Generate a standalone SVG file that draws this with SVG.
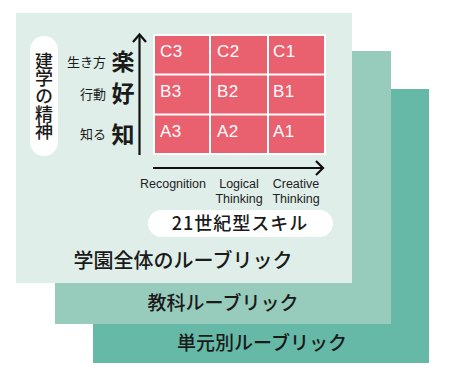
<svg xmlns="http://www.w3.org/2000/svg" width="449" height="384" viewBox="0 0 449 384">
<style>
.jp{font-family:"Noto Sans CJK JP","Noto Sans",sans-serif;fill:#1a1a1a}
.cell{fill:#e9606f}
.cl{font-family:"Liberation Sans",Arial,sans-serif;font-size:17px;fill:#ffffff;letter-spacing:0.5px}
.ax{font-family:"Liberation Sans",Arial,sans-serif;font-size:12.5px;fill:#222;text-anchor:middle}
.arr{stroke:#111;stroke-width:2.2;fill:none}
</style>
<rect width="449" height="384" fill="#ffffff"/>
<g id="unit-rubric">
<rect x="93" y="89" width="336" height="274" fill="#66b9a7"/>
<text class="jp" x="262" y="350" font-size="19" font-weight="500" text-anchor="middle">単元別ルーブリック</text>
</g>
<g id="subject-rubric">
<rect x="55" y="51" width="336" height="273" fill="#97cbbb"/>
<text class="jp" x="223" y="310" font-size="19" font-weight="500" text-anchor="middle">教科ルーブリック</text>
</g>
<g id="school-rubric">
<rect x="16" y="13" width="336" height="270" fill="#dfeee8"/>
<text class="jp" x="183" y="268" font-size="20" font-weight="500" text-anchor="middle">学園全体のルーブリック</text>
</g>
<g id="spirit">
<rect x="30" y="36" width="28" height="120" rx="14" fill="#ffffff"/>
<text class="jp" x="44" y="96" font-size="18" font-weight="500" text-anchor="middle" writing-mode="vertical-rl" letter-spacing="-0.4">建学の精神</text>
</g>
<g id="y-labels">
<text class="jp" x="106" y="67" font-size="13" text-anchor="end">生き方</text>
<text class="jp" x="123" y="70" font-size="23" font-weight="700" text-anchor="middle">楽</text>
<text class="jp" x="106" y="99" font-size="13" text-anchor="end">行動</text>
<text class="jp" x="123" y="102" font-size="23" font-weight="700" text-anchor="middle">好</text>
<text class="jp" x="106" y="139" font-size="13" text-anchor="end">知る</text>
<text class="jp" x="123" y="143" font-size="23" font-weight="700" text-anchor="middle">知</text>
</g>
<g id="grid">
<rect x="153" y="34" width="173" height="121" fill="#ffffff"/>
<rect class="cell" x="155" y="36" width="54" height="37.5"/>
<rect class="cell" x="211" y="36" width="56" height="37.5"/>
<rect class="cell" x="269" y="36" width="55" height="37.5"/>
<rect class="cell" x="155" y="75.5" width="54" height="38"/>
<rect class="cell" x="211" y="75.5" width="56" height="38"/>
<rect class="cell" x="269" y="75.5" width="55" height="38"/>
<rect class="cell" x="155" y="115.5" width="54" height="37.5"/>
<rect class="cell" x="211" y="115.5" width="56" height="37.5"/>
<rect class="cell" x="269" y="115.5" width="55" height="37.5"/>
<text class="cl" x="160" y="57">C3</text>
<text class="cl" x="217" y="57">C2</text>
<text class="cl" x="273" y="57">C1</text>
<text class="cl" x="160" y="97">B3</text>
<text class="cl" x="217" y="97">B2</text>
<text class="cl" x="273" y="97">B1</text>
<text class="cl" x="160" y="137">A3</text>
<text class="cl" x="217" y="137">A2</text>
<text class="cl" x="273" y="137">A1</text>
</g>
<g id="connectors">
<path class="arr" d="M139.5 155 V35"/>
<path class="arr" d="M133 42 L139.5 34.5 L146 42"/>
<path class="arr" d="M153 168 H322"/>
<path class="arr" d="M316 161 L323 168 L316 175"/>
</g>
<g id="x-labels">
<text class="ax" x="173" y="188">Recognition</text>
<text class="ax" x="239" y="188">Logical</text>
<text class="ax" x="239" y="203">Thinking</text>
<text class="ax" x="296" y="188">Creative</text>
<text class="ax" x="296" y="203">Thinking</text>
</g>
<g id="skills">
<rect x="148" y="210" width="185" height="27" rx="13.5" fill="#ffffff"/>
<text class="jp" x="240" y="230" font-size="18" font-weight="500" text-anchor="middle" letter-spacing="1">21世紀型スキル</text>
</g>
</svg>
